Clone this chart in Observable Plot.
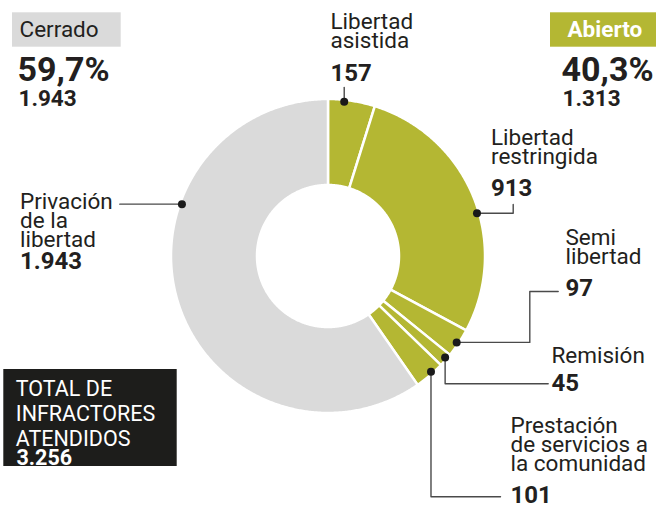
<!DOCTYPE html>
<html><head><meta charset="utf-8">
<script src="https://cdn.jsdelivr.net/npm/d3@7"></script>
<script src="https://cdn.jsdelivr.net/npm/@observablehq/plot@0.6"></script>
<style>body{margin:0;background:#fff}#chart{width:656px;height:505px}</style>
</head><body><div id="chart"></div>
<script>
// ---------- data ----------
const categories = ["Libertad asistida", "Libertad restringida", "Semi libertad", "Remisión", "Prestación de servicios a la comunidad", "Privación de la libertad"];
const labels = ["Libertad\nasistida", "Libertad\nrestringida", "Semi\nlibertad", "Remisión", "Prestación\nde servicios a\nla comunidad", "Privación\nde la\nlibertad"];
const values = [157, 913, 97, 45, 101, 1943];
const groups = ["Abierto", "Abierto", "Abierto", "Abierto", "Abierto", "Cerrado"];
const groupNames = ["Cerrado", "Abierto"];
const totalLabel = "TOTAL DE\nINFRACTORES\nATENDIDOS";

// ---------- layout / style ----------
const W = 656, H = 505, CX = 327.5, CY = 255.5, R_OUT = 157, R_IN = 71;
const OLIVE = "#b4b733", GREY = "#dadada", INK = "#231f20", BOX = "#1d1d1b";
const FONT = "Roboto";
const anchorFrac = [0.346, 0.561, 0.52, 0.38, 0.39, 0.672];
const labelX = [330, 490.5, 565, 551, 510, 19.5];
const nameY = [47, 163.5, 263.5, 362.5, 470, 246];
const numY = [80, 195, 295, 390.5, 502, 268.5];
const routes = [[["v", 87]], [["h", 512.7], ["v", 204]], [["h", 529.3], ["v", 291], ["h", 557.7]], [["v", 383.3], ["h", 547.7]], [["v", 496.3], ["h", 500]], [["h", 119.3]]];
const headX1 = [12, 550], headX2 = [120.7, 656], headTextX = [19, 567], headNumX = [17, 561];

const loc = d3.formatLocale({decimal: ",", thousands: ".", grouping: [3], currency: ["", ""]});
const fmtInt = loc.format(",d");
const fmtPct = loc.format(".1%");

const data = categories.map((name, i) => ({name, label: labels[i], value: values[i], group: groups[i]}));
const total = d3.sum(values);
const groupData = groupNames.map((g, i) => {
  const v = d3.sum(data.filter(d => d.group === g), d => d.value);
  return {group: g, value: v, share: v / total, x1: headX1[i], x2: headX2[i], tx: headTextX[i], nx: headNumX[i]};
});

const arcs = d3.pie().sort(null).value(d => d.value)(data);
const polyPts = [];
arcs.forEach(p => {
  const n = Math.max(6, Math.ceil((p.endAngle - p.startAngle) / 0.008));
  const d = p.data;
  for (let k = 0; k <= n; k++) {
    const a = p.startAngle + (p.endAngle - p.startAngle) * k / n;
    polyPts.push({name: d.name, group: d.group, x: CX + R_OUT * Math.sin(a), y: CY - R_OUT * Math.cos(a)});
  }
  for (let k = n; k >= 0; k--) {
    const a = p.startAngle + (p.endAngle - p.startAngle) * k / n;
    polyPts.push({name: d.name, group: d.group, x: CX + R_IN * Math.sin(a), y: CY - R_IN * Math.cos(a)});
  }
});

const dots = arcs.map((p, i) => {
  const a = p.startAngle + (p.endAngle - p.startAngle) * anchorFrac[i];
  const r = R_OUT - 2;
  return {name: p.data.name, x: CX + r * Math.sin(a), y: CY - r * Math.cos(a)};
});
const leaderPts = [];
dots.forEach((d, i) => {
  let x = d.x, y = d.y;
  leaderPts.push({name: d.name, x, y});
  routes[i].forEach(([dir, v]) => {
    if (dir === "h") x = v; else y = v;
    leaderPts.push({name: d.name, x, y});
  });
});

const closed = groupData.filter(d => d.group === "Cerrado");
const open = groupData.filter(d => d.group === "Abierto");

const chart = Plot.plot({
  width: W, height: H, margin: 0,
  x: {domain: [0, W], range: [0, W], axis: null},
  y: {domain: [0, H], range: [0, H], axis: null},
  color: {domain: ["Abierto", "Cerrado"], range: [OLIVE, GREY]},
  style: {fontFamily: FONT, background: "white", color: INK},
  marks: [
    Plot.line(polyPts, {x: "x", y: "y", z: "name", fill: "group", curve: "linear-closed", stroke: "white", strokeWidth: 2.5}),
    Plot.line(leaderPts, {x: "x", y: "y", z: "name", stroke: "#4a4a4a", strokeWidth: 1.4}),
    Plot.dot(dots, {x: "x", y: "y", r: 4, fill: "#1a1a1a", stroke: null}),
    Plot.text(data, {x: labelX, y: nameY, text: "label", textAnchor: "start", lineAnchor: "bottom", lineHeight: 19 / 22.5, fontSize: 22.5, fill: INK, fontFamily: FONT}),
    Plot.text(data, {x: labelX, y: numY, text: d => fmtInt(d.value), textAnchor: "start", lineAnchor: "bottom", fontSize: 24, fontWeight: "bold", fill: INK, fontFamily: FONT}),
    // group headers
    Plot.rect(groupData, {x1: "x1", x2: "x2", y1: 12.3, y2: 46.7, fill: "group"}),
    Plot.text(closed, {x: "tx", y: 36.7, text: "group", textAnchor: "start", lineAnchor: "bottom", fontSize: 22.5, fill: INK, fontFamily: FONT}),
    Plot.text(open, {x: "tx", y: 36.7, text: "group", textAnchor: "start", lineAnchor: "bottom", fontSize: 22.5, fontWeight: "bold", fill: "white", fontFamily: FONT}),
    Plot.text(groupData, {x: "nx", y: 80, text: d => fmtPct(d.share), textAnchor: "start", lineAnchor: "bottom", fontSize: 34, fontWeight: "bold", fill: INK, fontFamily: FONT}),
    Plot.text(groupData, {x: d => d.nx + 1, y: 105, text: d => fmtInt(d.value), textAnchor: "start", lineAnchor: "bottom", fontSize: 22.5, fontWeight: "bold", fill: INK, fontFamily: FONT}),
    // total box
    Plot.rect([total], {x1: 3.3, x2: 176.7, y1: 369, y2: 466, fill: BOX}),
    Plot.text([totalLabel], {x: 15.3, y: 445, text: d => d, textAnchor: "start", lineAnchor: "bottom", lineHeight: 25 / 21.5, fontSize: 21.5, fill: "white", fontFamily: FONT}),
    Plot.text([total], {x: 16, y: 464, text: d => fmtInt(d), textAnchor: "start", lineAnchor: "bottom", fontSize: 21.5, fontWeight: "bold", fill: "white", fontFamily: FONT})
  ]
});
document.getElementById("chart").append(chart);
</script>
</body></html>
